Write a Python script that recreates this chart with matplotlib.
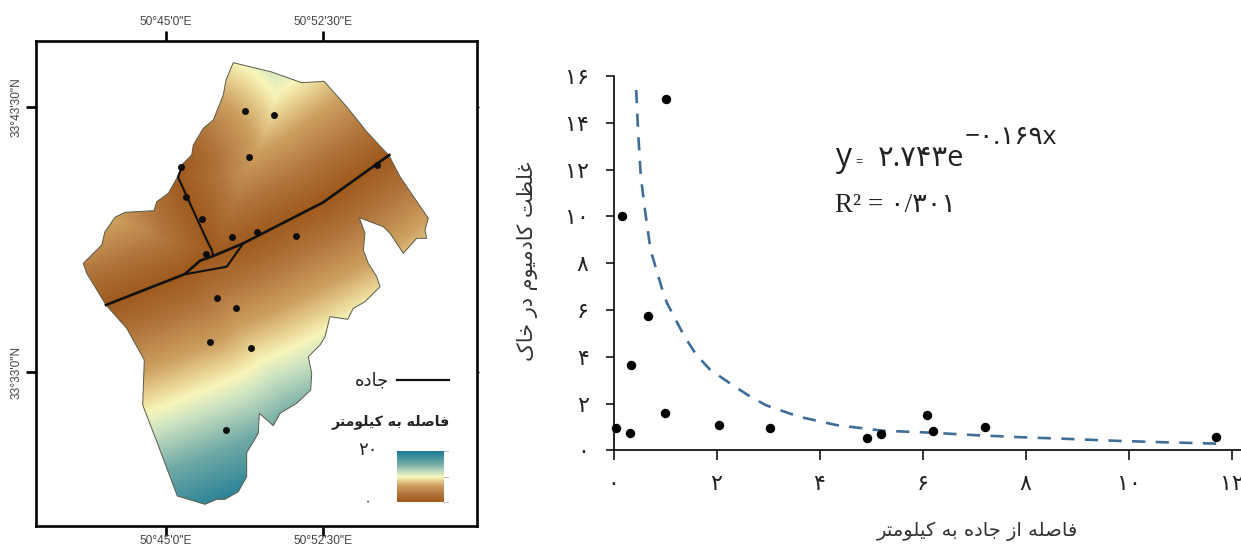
"""Map of distance to road (left) and cadmium vs distance scatter (right)."""
import matplotlib
matplotlib.use("Agg")
import matplotlib.pyplot as plt
import numpy as np
from matplotlib.colors import LinearSegmentedColormap
from matplotlib.patches import Polygon

W, H = 1241, 547
plt.rcParams["path.simplify"] = False
plt.rcParams["lines.scale_dashes"] = False

# map outline, roads and samples, digitised in the map's own units
border_x = [233.3, 271.7, 301.7, 324, 346.7, 366.7, 389.3, 400, 428.3, 425, 426.7, 416.7, 403.3, 390, 383.3,
            359.3, 365, 363.3, 368.3, 376.7, 380, 365, 353.3, 347.7, 330, 325, 320, 308.3, 311.7, 310.7,
            296.7, 280, 273.3, 259.3, 258.3, 246.7, 246.7, 238.3, 225, 216.7, 205, 177.3, 160, 142.7, 144.3,
            126.7, 106, 86.7, 83.3, 101.7, 105, 115, 125, 154, 156.7, 168.3, 177.7, 183.3, 191.7, 193.3,
            203.3, 213.3, 223.3, 226]
border_y = [62.7, 72, 82.7, 81.3, 106.7, 131.7, 156, 176.7, 218.3, 230, 238.3, 238.3, 253.3, 233.3, 226.7,
            217.7, 233.3, 250, 263.3, 276.7, 286.7, 301.7, 308.3, 319.3, 316.7, 336.7, 345, 356.7, 373.3, 390,
            403.3, 413.3, 425.7, 413.3, 433.3, 452.7, 476.7, 491.7, 499.3, 499.3, 504.3, 496, 450, 405, 360,
            328.3, 305, 273.3, 263.3, 245, 231.7, 217.3, 212.3, 210.7, 201.7, 193.3, 176.7, 163.3, 155, 145,
            128.3, 120, 95, 80]
road_main_x = [389.3, 323.3, 243.3, 213.3, 200, 185, 106]
road_main_y = [155, 202.3, 243.3, 256, 260.7, 274, 305]
road_loop_x = [243.3, 226.7, 186.7]
road_loop_y = [243.3, 266.7, 274]
road_north_x = [182.7, 178, 206.7, 211.7, 213.3]
road_north_y = [165, 177, 240, 250, 256]
site_x = [245, 274.3, 249, 376.7, 181, 185.7, 201.7, 232, 257.3, 296, 205.7, 217, 235.7, 210, 250.7, 225.7]
site_y = [111, 115.3, 157, 165, 166.7, 197, 218.7, 237, 232.3, 235.7, 253.7, 298, 308, 342.3, 348.3, 430.3]

lon_ticks = [166, 323]
lon_labels = ["50°45'0\"E", "50°52'30\"E"]
lat_ticks = [107, 372]
lat_labels = ["33°43'30\"N", "33°33'0\"N"]

# scatter: distance to road (km), cadmium, and the fitted curve as drawn
dist_km = [1.02, 0.165, 0.67, 0.34, 1.0, 0.05, 0.32, 2.04, 3.04, 4.93, 5.19, 6.08, 6.2, 7.22, 11.69]
cadmium = [15.0, 10.0, 5.74, 3.63, 1.6, 0.94, 0.73, 1.09, 0.94, 0.54, 0.69, 1.51, 0.83, 1.0, 0.59]
fit_x = [0.44, 0.48, 0.53, 0.62, 0.72, 0.95, 1.04, 1.38, 1.61, 1.88, 2.34, 2.62, 2.96, 3.6, 4.33, 5.23, 6.14,
         7.04, 7.95, 8.85, 9.76, 10.66, 11.70]
fit_y = [15.4, 13.55, 11.7, 10.13, 8.56, 6.85, 6.29, 4.86, 4.08, 3.44, 2.75, 2.35, 1.93, 1.44, 1.08, 0.84,
         0.76, 0.65, 0.56, 0.49, 0.41, 0.35, 0.29]
x_ticks = [0, 2, 4, 6, 8, 10, 12]
x_tick_labels = ["۰", "۲", "۴", "۶", "۸", "۱۰", "۱۲"]
y_ticks = [0, 2, 4, 6, 8, 10, 12, 14, 16]
y_tick_labels = ["۰", "۲", "۴", "۶", "۸", "۱۰", "۱۲", "۱۴", "۱۶"]

ramp_stops = [0, 0.15, 0.32, 0.42, 0.49, 0.57, 0.75, 1]
ramp_colors = ["#a05a1e", "#b0743a", "#cda060", "#e8d292", "#f8f5ba", "#cfe4c2", "#70aaa6", "#1c7a94"]
MAX_DIST = 235

FORMS = {
    "ا": "\ufe8d\ufe8e", "د": "\ufea9\ufeaa", "ر": "\ufead\ufeae", "ز": "\ufeaf\ufeb0", "و": "\ufeed\ufeee",
    "ب": "\ufe8f\ufe90\ufe91\ufe92", "ت": "\ufe95\ufe96\ufe97\ufe98", "ج": "\ufe9d\ufe9e\ufe9f\ufea0",
    "خ": "\ufea5\ufea6\ufea7\ufea8", "ص": "\ufeb9\ufeba\ufebb\ufebc", "ظ": "\ufec5\ufec6\ufec7\ufec8",
    "غ": "\ufecd\ufece\ufecf\ufed0", "ف": "\ufed1\ufed2\ufed3\ufed4", "ک": "\ufb8e\ufb8f\ufb90\ufb91",
    "ل": "\ufedd\ufede\ufedf\ufee0", "م": "\ufee1\ufee2\ufee3\ufee4", "ه": "\ufee9\ufeea\ufeeb\ufeec",
    "ی": "\ufbfc\ufbfd\ufbfe\ufbff",
}


def persian(text):
    # matplotlib has no shaping or right-to-left, so pick joined forms and reverse
    out = []
    for i, ch in enumerate(text):
        forms = FORMS.get(ch)
        if forms is None:
            out.append(ch)
            continue
        prev = text[i - 1] if i else " "
        nxt = text[i + 1] if i + 1 < len(text) else " "
        join_prev = prev in FORMS and len(FORMS[prev]) == 4
        join_next = nxt in FORMS and len(forms) == 4
        out.append(forms[{(0, 0): 0, (1, 0): 1, (0, 1): 2, (1, 1): 3}[(int(join_prev), int(join_next))]])
    return "".join(reversed(out))


def put(x, y, s, **kw):
    kw.setdefault("ha", "center")
    kw.setdefault("va", "center")
    fig.text(x / W, 1 - y / H, s, **kw)


def road_distance(xx, yy, xs, ys):
    best = np.full(xx.shape, np.inf)
    for x0, y0, x1, y1 in zip(xs[:-1], ys[:-1], xs[1:], ys[1:]):
        dx, dy = x1 - x0, y1 - y0
        t = np.clip(((xx - x0) * dx + (yy - y0) * dy) / (dx * dx + dy * dy), 0, 1)
        best = np.minimum(best, np.hypot(xx - x0 - t * dx, yy - y0 - t * dy))
    return best


cmap = LinearSegmentedColormap.from_list("dist", list(zip(ramp_stops, ramp_colors)))
fig = plt.figure(figsize=(W / 100, H / 100), dpi=100)

# --- map ---
ax = fig.add_axes([35.7 / W, 1 - 526 / H, 441 / W, 485.3 / H])
gx, gy = np.meshgrid(np.arange(35.5, 477, 1.0), np.arange(40.5, 526, 1.0))
field = np.minimum(road_distance(gx, gy, road_main_x, road_main_y),
                   road_distance(gx, gy, road_north_x, road_north_y))
img = ax.imshow(field, cmap=cmap, vmin=0, vmax=MAX_DIST, extent=(35, 477, 526, 40), aspect="auto",
                interpolation="bilinear")
outline = Polygon(np.column_stack([border_x, border_y]), closed=True, fc="none", ec="#5a5a48", lw=0.7, zorder=3)
ax.add_patch(outline)
img.set_clip_path(outline)
ax.plot(road_main_x, road_main_y, color="#111111", lw=1.9, zorder=4)
ax.plot(road_loop_x, road_loop_y, color="#111111", lw=1.5, zorder=4)
ax.plot(road_north_x, road_north_y, color="#111111", lw=1.5, zorder=4)
ax.scatter(site_x, site_y, s=25, color="#0d0d0d", zorder=5, linewidths=0)

# legend inside the frame
ax.plot([397.3, 449], [379.7, 379.7], color="#111111", lw=1.6)
ax.imshow(np.linspace(1, 0, 256).reshape(-1, 1), cmap=cmap, vmin=0, vmax=1, extent=(397.3, 444.3, 502, 451),
          aspect="auto")
for tick_y in (451, 476.5, 502):
    ax.plot([444.3, 448], [tick_y, tick_y], color="#bbbbbb", lw=0.7)
ax.set_xlim(35.7, 476.7)
ax.set_ylim(526, 40.7)

ax.set_xticks(lon_ticks, lon_labels)
ax.set_yticks(lat_ticks, lat_labels, rotation=90, va="center")
ax.tick_params(top=True, labeltop=True, bottom=True, labelbottom=False, length=7.4, width=1.9, pad=2,
               labelsize=8.6, labelcolor="#454545", labelfontfamily="Liberation Sans")
for spine in ax.spines.values():
    spine.set_linewidth(1.9)
for tick_y in lat_ticks:
    ax.plot([476.7, 478.5], [tick_y, tick_y], color="#666666", lw=0.9, clip_on=False)
for tick_x, label in zip(lon_ticks, lon_labels):
    put(tick_x, 541.5, label, fontsize=8.6, color="#454545", family="Liberation Sans")

put(372, 380, persian("جاده"), fontsize=13, color="#222222")
put(391, 422, persian("فاصله به کیلومتر"), fontsize=10.2, fontweight="bold", color="#222222")
put(368, 450, "۲۰", fontsize=13, color="#222222")
put(368, 501, "۰", fontsize=11, color="#222222")

# --- scatter ---
x_right = (W - 613.5) / 51.5
ax2 = fig.add_axes([613.5 / W, 1 - 450.4 / H, (W - 613.5) / W, 374.4 / H])
ax2.plot(fit_x, fit_y, color="#3f6e99", lw=1.9, linestyle=(0, (9.5, 7.5)), dash_capstyle="butt")
ax2.plot(dist_km, cadmium, "o", ms=6.8, color="black", mew=0, clip_on=False, zorder=3)
ax2.set_xlim(0, x_right)
ax2.set_ylim(0, 16)
ax2.set_xticks(x_ticks, x_tick_labels)
ax2.set_yticks(y_ticks, y_tick_labels)
ax2.tick_params(axis="x", length=7, width=1.1, pad=10, labelsize=16, labelcolor="#222222")
ax2.tick_params(axis="y", length=5.8, width=1.1, pad=12, labelsize=16, labelcolor="#222222")
for spine in ("top", "right"):
    ax2.spines[spine].set_visible(False)
for spine in ("left", "bottom"):
    ax2.spines[spine].set_linewidth(1.2)

put(977, 531, persian("فاصله از جاده به کیلومتر"), fontsize=14, color="#333333")
put(527, 261, persian("غلظت کادمیوم در خاک"), fontsize=15, rotation=90, color="#333333")

eq_font = ["Open Sans", "DejaVu Sans"]
put(835, 158, "y", fontsize=23, family=eq_font, ha="left", color="#222222")
put(855, 163, "=", fontsize=9, family=eq_font, ha="left", color="#333333")
put(878, 158, "۲.۷۴۳e", fontsize=21, family=eq_font, ha="left", color="#222222")
put(965, 138, "−۰.۱۶۹x", fontsize=19, family=eq_font, ha="left", color="#222222")
put(835, 206, "R² = ۰/۳۰۱", fontsize=19.5, family=["Liberation Serif", "DejaVu Sans"], ha="left", color="#222222")

fig.savefig("out.png", dpi=100)
